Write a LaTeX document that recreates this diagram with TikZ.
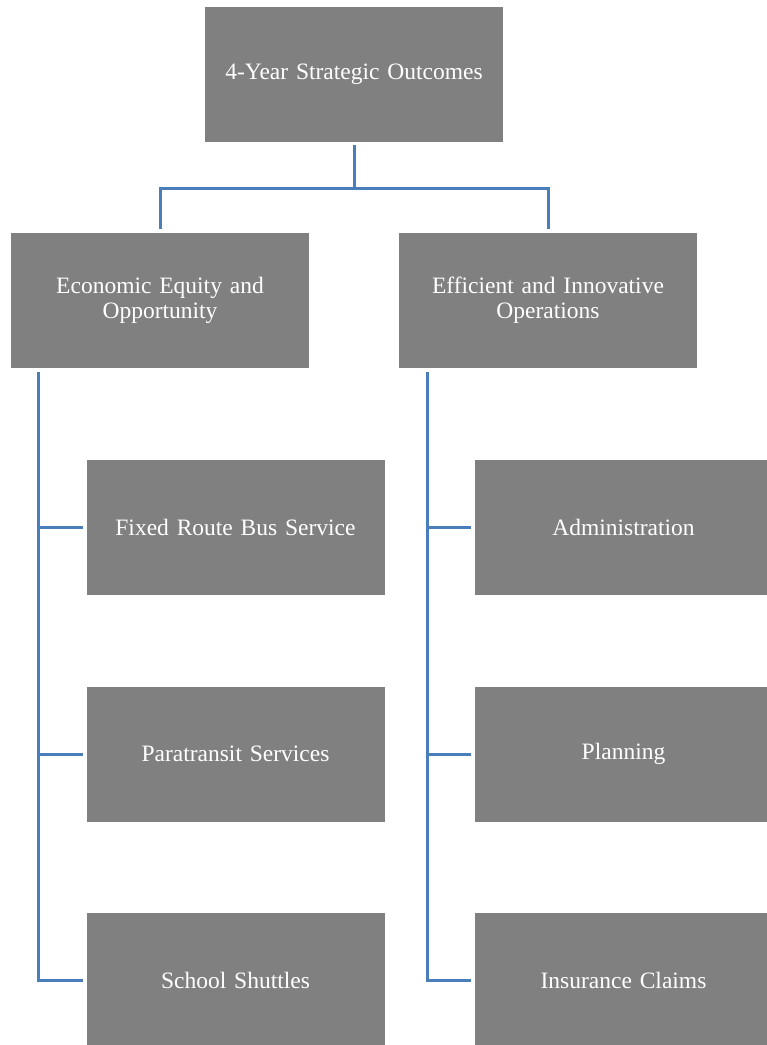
\documentclass[tikz,border=0pt]{standalone}
\usepackage{fontspec}
\setmainfont{Liberation Serif}
\usepackage{tikz}
\usetikzlibrary{positioning,calc}
\definecolor{boxgray}{HTML}{808080}
\definecolor{linkblue}{HTML}{4A7EBB}

\begin{document}
\begin{tikzpicture}[x=1pt,y=-1pt,
    outcome/.style={fill=boxgray, text=white, minimum width=298pt, minimum height=135pt,
        inner sep=0pt, align=center, text width=270pt, font=\fontsize{23.5}{25}\selectfont},
    link/.style={draw=linkblue, line width=3pt, shorten <=3pt, shorten >=3pt}]
            \useasboundingbox (0,0) rectangle (767,1045);
            \clip (0,0) rectangle (767,1045);

            % top level
            \node[outcome] (top) at (354,74.5) {4-Year Strategic Outcomes};

            % two outcome areas
            \node[outcome] (econ) at (160,300.5) {Economic Equity and\\Opportunity};
            \node[outcome] (eff) at (548,300.5) {Efficient and Innovative\\Operations};

            % programs under each area
            \node[outcome] (fixed) at (235.5,527) {Fixed Route Bus Service};
            \node[outcome] (para) at (235.5,754) {Paratransit Services};
            \node[outcome] (school) at (235.5,980) {School Shuttles};

            \node[outcome] (admin) at (623.5,527) {Administration};
            \node[outcome] (plan) at (623.5,754) {Planning};
            \node[outcome] (claims) at (623.5,980) {Insurance Claims};

            \coordinate (econ-trunk) at ($(econ.south west)+(28,0)$);
            \coordinate (eff-trunk) at ($(eff.south west)+(29,0)$);

            \draw[link, shorten >=4pt] (top.south) -- ++(0,46) -| (econ.north);
            \draw[link, shorten >=4pt] (top.south) -- ++(0,46) -| (eff.north);

            \draw[link, shorten <=4pt] (econ-trunk) |- (fixed.west);
            \draw[link, shorten <=4pt] (econ-trunk) |- (para.west);
            \draw[link, shorten <=4pt] (econ-trunk) |- (school.west);

            \draw[link, shorten <=4pt] (eff-trunk) |- (admin.west);
            \draw[link, shorten <=4pt] (eff-trunk) |- (plan.west);
            \draw[link, shorten <=4pt] (eff-trunk) |- (claims.west);
        \end{tikzpicture}
\end{document}
